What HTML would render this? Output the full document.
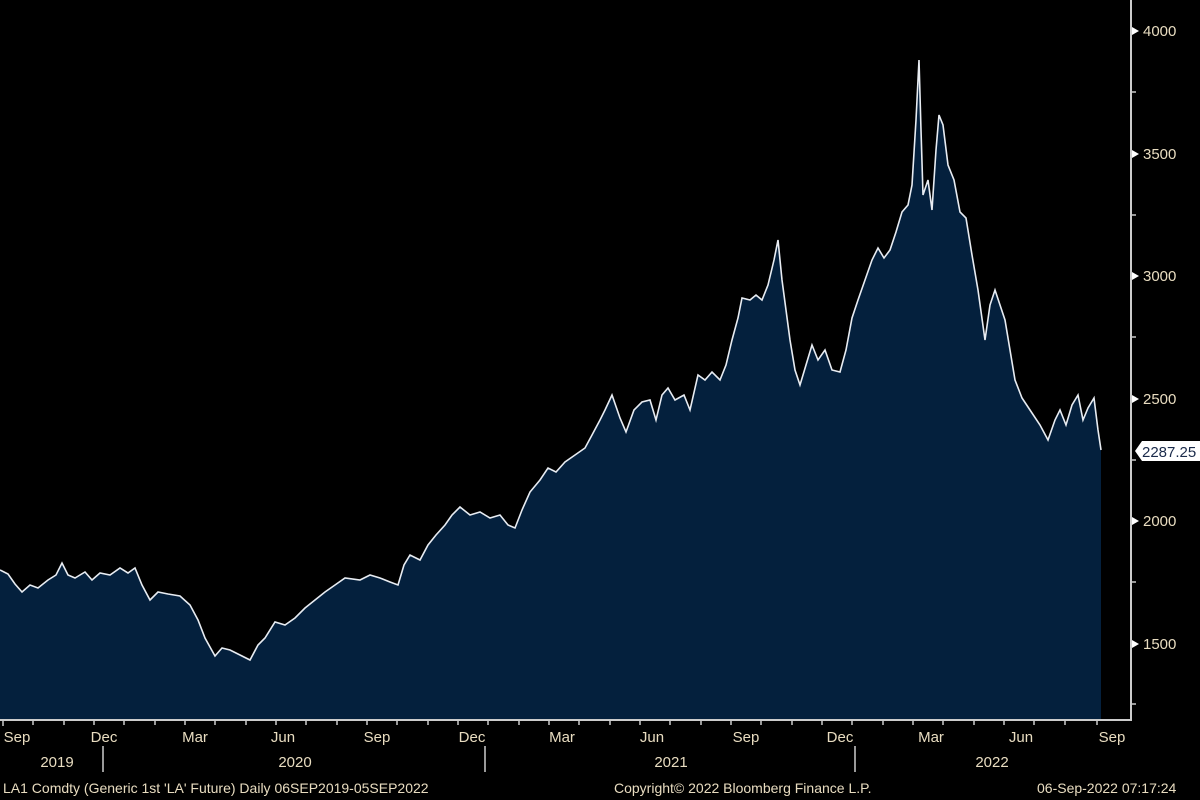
<!DOCTYPE html>
<html><head><style>
html,body{margin:0;padding:0;background:#000;width:1200px;height:800px;overflow:hidden}
svg text{font-family:"Liberation Sans",sans-serif;}
</style></head><body>
<svg width="1200" height="800" xmlns="http://www.w3.org/2000/svg">
<rect width="1200" height="800" fill="#000"/>
<polygon fill="#04203d" points="0,720 0,570 8,574 15,584 22,592 30,585 38,588 48,580 56,575 62,563 68,575 75,578 85,572 92,580 100,573 110,575 120,568 128,573 135,568 142,585 150,600 158,592 168,594 180,596 190,605 198,620 205,638 215,656 222,648 230,650 240,655 250,660 258,645 265,638 275,622 285,625 295,618 305,608 315,600 325,592 335,585 345,578 360,580 370,575 380,578 390,582 398,585 404,565 410,555 420,560 428,545 436,535 445,525 452,515 460,507 470,515 480,512 490,518 500,515 508,525 515,528 522,510 530,492 540,480 548,468 556,472 565,462 575,455 585,448 592,435 600,420 605,410 612,395 620,418 626,432 634,410 642,402 650,400 656,420 662,395 668,388 675,400 684,395 690,410 698,375 705,380 712,372 720,380 726,365 732,340 738,318 742,298 750,300 756,295 762,300 768,285 774,260 778,240 782,280 786,310 790,340 795,370 800,385 806,365 812,345 818,360 825,350 832,370 840,372 846,350 852,318 858,300 865,280 872,260 878,248 884,258 890,250 896,232 902,212 908,205 912,185 916,120 919,60 921,130 923,195 928,180 932,210 936,150 939,115 943,125 948,165 954,180 960,212 966,218 972,255 978,290 985,340 990,305 995,290 1000,305 1005,320 1010,350 1015,380 1022,398 1030,410 1040,425 1048,440 1055,420 1060,410 1066,425 1072,405 1078,395 1083,420 1088,408 1094,398 1098,430 1101,450 1101,720"/>
<polyline fill="none" stroke="#e8ecf2" stroke-width="1.6" points="0,570 8,574 15,584 22,592 30,585 38,588 48,580 56,575 62,563 68,575 75,578 85,572 92,580 100,573 110,575 120,568 128,573 135,568 142,585 150,600 158,592 168,594 180,596 190,605 198,620 205,638 215,656 222,648 230,650 240,655 250,660 258,645 265,638 275,622 285,625 295,618 305,608 315,600 325,592 335,585 345,578 360,580 370,575 380,578 390,582 398,585 404,565 410,555 420,560 428,545 436,535 445,525 452,515 460,507 470,515 480,512 490,518 500,515 508,525 515,528 522,510 530,492 540,480 548,468 556,472 565,462 575,455 585,448 592,435 600,420 605,410 612,395 620,418 626,432 634,410 642,402 650,400 656,420 662,395 668,388 675,400 684,395 690,410 698,375 705,380 712,372 720,380 726,365 732,340 738,318 742,298 750,300 756,295 762,300 768,285 774,260 778,240 782,280 786,310 790,340 795,370 800,385 806,365 812,345 818,360 825,350 832,370 840,372 846,350 852,318 858,300 865,280 872,260 878,248 884,258 890,250 896,232 902,212 908,205 912,185 916,120 919,60 921,130 923,195 928,180 932,210 936,150 939,115 943,125 948,165 954,180 960,212 966,218 972,255 978,290 985,340 990,305 995,290 1000,305 1005,320 1010,350 1015,380 1022,398 1030,410 1040,425 1048,440 1055,420 1060,410 1066,425 1072,405 1078,395 1083,420 1088,408 1094,398 1098,430 1101,450"/>
<g stroke="#ccc" stroke-width="2" fill="none">
<line x1="0" y1="720" x2="1132" y2="720"/>
<line x1="1131" y1="0" x2="1131" y2="721"/>
</g>
<g stroke="#ccc" stroke-width="1.5">
<line x1="1131" y1="92" x2="1136" y2="92"/><line x1="1131" y1="215" x2="1136" y2="215"/>
<line x1="1131" y1="337" x2="1136" y2="337"/><line x1="1131" y1="460" x2="1136" y2="460"/>
<line x1="1131" y1="582" x2="1136" y2="582"/><line x1="1131" y1="704" x2="1136" y2="704"/>
</g>
<g fill="#fff">
<polygon points="1132,27 1139,31 1132,35"/><polygon points="1132,150 1139,154 1132,158"/>
<polygon points="1132,272 1139,276 1132,280"/><polygon points="1132,395 1139,399 1132,403"/>
<polygon points="1132,517 1139,521 1132,525"/><polygon points="1132,640 1139,644 1132,648"/>
</g>
<g fill="#e8dcc0" font-size="15">
<text x="1143" y="36">4000</text><text x="1143" y="159">3500</text>
<text x="1143" y="281">3000</text><text x="1143" y="404">2500</text>
<text x="1143" y="526">2000</text><text x="1143" y="649">1500</text>
</g>
<polygon points="1135,451 1142,441 1200,441 1200,461 1142,461" fill="#fff"/>
<text x="1142" y="457" font-size="15" fill="#1a2a4a">2287.25</text>
<g stroke="#ccc" stroke-width="1.5" id="tk"></g>
<g stroke="#ccc" stroke-width="1.5">
<line x1="3" y1="720" x2="3" y2="726"/><line x1="33" y1="720" x2="33" y2="725"/><line x1="64" y1="720" x2="64" y2="725"/><line x1="94" y1="720" x2="94" y2="725"/><line x1="124" y1="720" x2="124" y2="725"/><line x1="155" y1="720" x2="155" y2="725"/><line x1="185" y1="720" x2="185" y2="725"/><line x1="215" y1="720" x2="215" y2="725"/><line x1="246" y1="720" x2="246" y2="725"/><line x1="276" y1="720" x2="276" y2="725"/><line x1="306" y1="720" x2="306" y2="725"/><line x1="337" y1="720" x2="337" y2="725"/><line x1="367" y1="720" x2="367" y2="725"/><line x1="397" y1="720" x2="397" y2="725"/><line x1="428" y1="720" x2="428" y2="725"/><line x1="458" y1="720" x2="458" y2="725"/><line x1="488" y1="720" x2="488" y2="725"/><line x1="519" y1="720" x2="519" y2="725"/><line x1="549" y1="720" x2="549" y2="725"/><line x1="579" y1="720" x2="579" y2="725"/><line x1="610" y1="720" x2="610" y2="725"/><line x1="640" y1="720" x2="640" y2="725"/><line x1="670" y1="720" x2="670" y2="725"/><line x1="701" y1="720" x2="701" y2="725"/><line x1="731" y1="720" x2="731" y2="725"/><line x1="761" y1="720" x2="761" y2="725"/><line x1="792" y1="720" x2="792" y2="725"/><line x1="822" y1="720" x2="822" y2="725"/><line x1="852" y1="720" x2="852" y2="725"/><line x1="883" y1="720" x2="883" y2="725"/><line x1="913" y1="720" x2="913" y2="725"/><line x1="943" y1="720" x2="943" y2="725"/><line x1="974" y1="720" x2="974" y2="725"/><line x1="1004" y1="720" x2="1004" y2="725"/><line x1="1034" y1="720" x2="1034" y2="725"/><line x1="1065" y1="720" x2="1065" y2="725"/><line x1="1097" y1="720" x2="1097" y2="725"/>
<line x1="103" y1="746" x2="103" y2="772"/><line x1="485" y1="746" x2="485" y2="772"/><line x1="855" y1="746" x2="855" y2="772"/>
</g>
<g fill="#e8dcc0" font-size="15" text-anchor="middle">
<text x="17" y="742">Sep</text><text x="104" y="742">Dec</text><text x="195" y="742">Mar</text><text x="283" y="742">Jun</text><text x="377" y="742">Sep</text><text x="472" y="742">Dec</text><text x="562" y="742">Mar</text><text x="652" y="742">Jun</text><text x="746" y="742">Sep</text><text x="840" y="742">Dec</text><text x="931" y="742">Mar</text><text x="1021" y="742">Jun</text><text x="1112" y="742">Sep</text>
<text x="57" y="767">2019</text><text x="295" y="767">2020</text><text x="671" y="767">2021</text><text x="992" y="767">2022</text>
</g>
<g fill="#e8dcc0" font-size="14">
<text x="3" y="793">LA1 Comdty (Generic 1st 'LA' Future)  Daily 06SEP2019-05SEP2022</text>
<text x="614" y="793">Copyright© 2022 Bloomberg Finance L.P.</text>
<text x="1037" y="793">06-Sep-2022 07:17:24</text>
</g>
</svg>
</body></html>
